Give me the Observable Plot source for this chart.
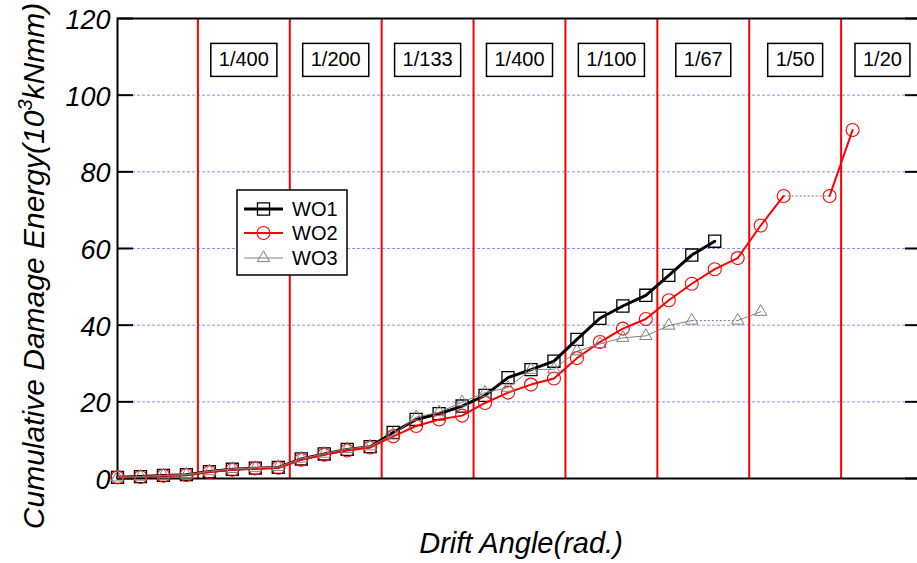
<!DOCTYPE html>
<html><head><meta charset="utf-8">
<script src="https://cdn.jsdelivr.net/npm/d3@7"></script>
<script src="https://cdn.jsdelivr.net/npm/@observablehq/plot@0.6"></script>
<style>
body{margin:0;background:#fff}
#chart{width:917px;height:563px;overflow:hidden;position:relative;background:#fff}
</style>
</head><body><div id="chart"></div>
<script>
// ---- data ----
const seriesNames = ["WO1", "WO2", "WO3"];
const wo1 = [0.3, 0.5, 0.8, 1.0, 1.8, 2.4, 2.7, 2.9, 5.1, 6.4, 7.6, 8.3, 12.0, 15.4, 16.9, 18.9, 21.7, 26.3, 28.4, 30.6, 36.3, 41.8, 45.0, 47.8, 53.0, 58.3, 61.9];
const wo2 = [0.3, 0.4, 0.7, 0.9, 1.7, 2.3, 2.6, 2.8, 4.9, 6.2, 7.3, 8.1, 11.0, 13.7, 15.4, 16.4, 19.7, 22.4, 24.5, 26.1, 31.4, 35.6, 39.1, 41.6, 46.5, 50.8, 54.6, 57.5, 66.0, 73.7, null, 73.7, 90.9];
const wo3 = [0.3, 0.5, 0.8, 1.0, 1.9, 2.5, 2.8, 3.0, 5.2, 6.5, 7.7, 8.4, 11.5, 16.0, 17.3, 19.9, 22.4, 23.7, 28.4, 28.5, 33.2, 35.1, 36.7, 37.2, 39.9, 41.2, null, 41.2, 43.5];
const stageLabels = ["1/400", "1/200", "1/133", "1/400", "1/100", "1/67", "1/50", "1/20"];
const stageBoundaries = [3.5, 7.5, 11.5, 15.5, 19.5, 23.5, 27.5, 31.5];
const labelPositions = [5.5, 9.5, 13.5, 17.5, 21.5, 25.5, 29.5, 33.3];
const yTicks = [0, 20, 40, 60, 80, 100, 120];
const gridValues = [20, 40, 60, 80, 100];
const xDomain = [0, 35];
const yDomain = [0, 120];

const styles = {
  WO1: {stroke: "#000000", lineWidth: 3, symbol: "square", r: 6.8, dotWidth: 1.3},
  WO2: {stroke: "#ff0000", lineWidth: 2, symbol: "circle", r: 6.5, dotWidth: 1.1},
  WO3: {stroke: "#808080", lineWidth: 1, symbol: "triangle", r: 4.6, dotWidth: 1}
};

const seriesData = {WO1: wo1, WO2: wo2, WO3: wo3};
const rows = name => seriesData[name].map((v, i) => ({i, v, name}));
const gaps = name => {
  const a = seriesData[name], out = [];
  a.forEach((v, i) => {
    if (v == null && a[i - 1] != null && a[i + 1] != null)
      out.push({x1: i - 1, y1: a[i - 1], x2: i + 1, y2: a[i + 1]});
  });
  return out;
};
const labels = stageLabels.map((t, k) => ({t, x: labelPositions[k]}));

const font = "'Liberation Sans', Arial, Helvetica, sans-serif";

const marks = [
  Plot.ruleY(gridValues, {stroke: "#8c8cff", strokeWidth: 1, strokeDasharray: "3,2"}),
  Plot.ruleX(stageBoundaries, {stroke: "#ff0000", strokeWidth: 2}),
  Plot.ruleY(yTicks, {x1: xDomain[0], x2: xDomain[0], insetRight: -16, stroke: "#000", strokeWidth: 2}),
  Plot.ruleY(yTicks, {x1: xDomain[1], x2: xDomain[1], insetLeft: -16, stroke: "#000", strokeWidth: 2}),
  Plot.frame({stroke: "#000", strokeWidth: 2}),
  Plot.axisY(yTicks, {tickSize: 0, tickPadding: 7, fontSize: 27, fontStyle: "italic", label: null, dy: 2}),
  Plot.text(labels, {x: "x", text: "t", frameAnchor: "top", dy: 41.5, fontSize: 20, lineAnchor: "middle", fill: "#000", className: "stage-label"})
];
for (const name of seriesNames) {
  const s = styles[name];
  marks.push(Plot.link(gaps(name), {x1: "x1", y1: "y1", x2: "x2", y2: "y2", stroke: "#777", strokeWidth: 1, strokeDasharray: "2,2"}));
  marks.push(Plot.line(rows(name), {x: "i", y: "v", stroke: s.stroke, strokeWidth: s.lineWidth}));
  marks.push(Plot.dot(rows(name).filter(d => d.v != null), {x: "i", y: "v", symbol: () => s.symbol, r: s.r, stroke: s.stroke, strokeWidth: s.dotWidth, fill: "none"}));
}

const plot = Plot.plot({
  width: 917,
  height: 563,
  marginLeft: 117,
  marginRight: -4,
  marginTop: 18,
  marginBottom: 85,
  x: {domain: xDomain, axis: null},
  y: {domain: yDomain, axis: null},
  symbol: {type: "identity"},
  style: {fontFamily: font, background: "#fff", color: "#000", overflow: "hidden"},
  marks
});
document.getElementById("chart").appendChild(plot);

const svg = d3.select(plot);

// boxes around stage labels
svg.selectAll(".stage-label text").each(function () {
  const b = this.getBBox();
  const padX = 8, h = 33;
  const cy = b.y + b.height / 2;
  const tr = this.getAttribute("transform");
  const r = d3.select(this.parentNode).insert("rect", () => this)
    .attr("x", b.x - padX).attr("y", cy - h / 2 + 0.5)
    .attr("width", b.width + 2 * padX).attr("height", h)
    .attr("fill", "#fff").attr("stroke", "#000").attr("stroke-width", 1.5);
  if (tr) r.attr("transform", tr);
});

// axis titles
svg.append("text")
  .attr("x", 521).attr("y", 553)
  .attr("text-anchor", "middle")
  .attr("font-size", 29).attr("font-style", "italic").attr("font-family", font)
  .attr("fill", "#000")
  .text("Drift Angle(rad.)");

const yt = svg.append("text")
  .attr("transform", "translate(44,266) rotate(-90)")
  .attr("text-anchor", "middle")
  .attr("font-size", 30).attr("font-style", "italic").attr("font-family", font)
  .attr("fill", "#000");
yt.append("tspan").text("Cumulative Damage Energy(10");
yt.append("tspan").attr("font-size", 20).attr("dy", -12).text("3");
yt.append("tspan").attr("dy", 12).text("kNmm)");

// legend
const lg = svg.append("g");
lg.append("rect").attr("x", 237).attr("y", 190).attr("width", 110).attr("height", 85)
  .attr("fill", "#fff").attr("stroke", "#000").attr("stroke-width", 1.5);
const rowY = [209, 233, 258];
seriesNames.forEach((name, k) => {
  const s = styles[name];
  const y = rowY[k];
  lg.append("line").attr("x1", 244).attr("x2", 283).attr("y1", y).attr("y2", y)
    .attr("stroke", s.stroke).attr("stroke-width", s.lineWidth);
  const sym = {square: d3.symbolSquare, circle: d3.symbolCircle, triangle: d3.symbolTriangle}[s.symbol];
  lg.append("path").attr("d", d3.symbol(sym, s.r * s.r * Math.PI)())
    .attr("transform", `translate(263.5,${y})`)
    .attr("fill", "none").attr("stroke", s.stroke).attr("stroke-width", s.dotWidth);
  lg.append("text").attr("x", 292).attr("y", y).attr("dy", "0.36em")
    .attr("text-anchor", "start")
    .attr("font-size", 20).attr("font-family", font).attr("fill", "#000").text(name);
});
</script>
</body></html>
